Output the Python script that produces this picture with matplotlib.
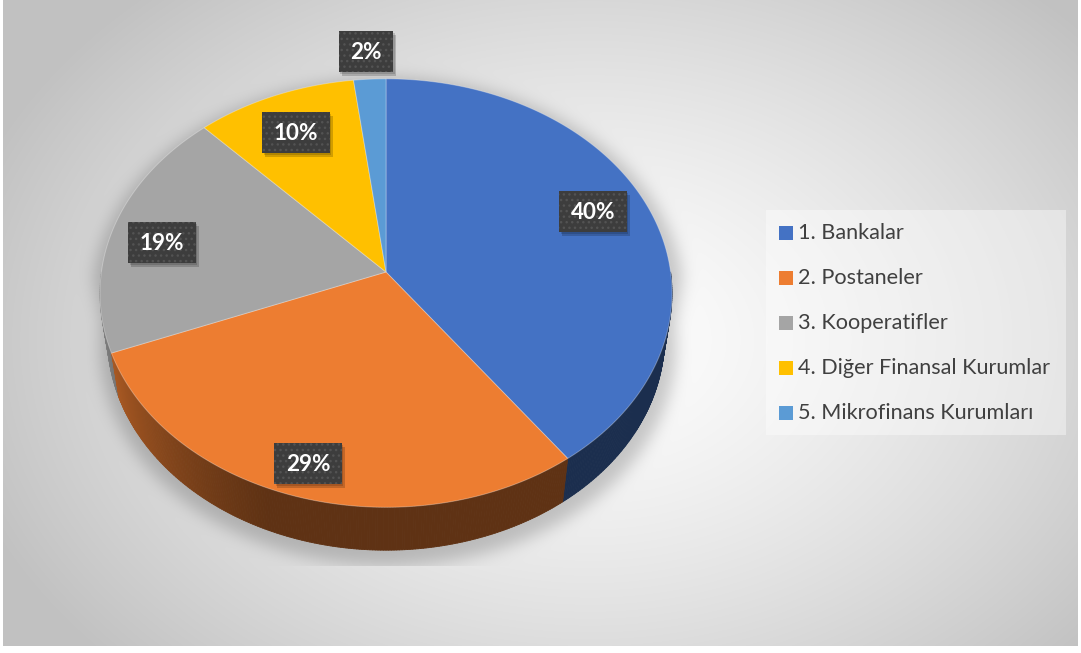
import numpy as np
import matplotlib
matplotlib.use('Agg')
import matplotlib.pyplot as plt
from matplotlib.patches import Polygon, Rectangle
from matplotlib.collections import PolyCollection
from matplotlib.path import Path

# ---------------- data ----------------
categories = ['1. Bankalar', '2. Postaneler', '3. Kooperatifler',
              '4. Diğer Finansal Kurumlar', '5. Mikrofinans Kurumları']
shares = [40, 29, 19, 10, 2]
colors = ['#4472C4', '#ED7D31', '#A5A5A5', '#FFC000', '#5B9BD5']
pct_labels = ['40%', '29%', '19%', '10%', '2%']

# ---------------- layout ----------------
label_xy = [(593, 211), (308, 463), (162, 242), (296, 132), (366, 51)]
W, H = 1081, 653
CX, CY = 386, 272          # projected pie centre (pixels)
SCALE = 284.6              # pixels per unit radius
ELEV = np.radians(48.2)    # viewing elevation
DIST = 6.78                # camera distance (in radii)
THICK = 0.243              # pie thickness (in radii)
LBL_FS = 16.2
LEG_FS = 15.6

plt.rcParams['hatch.color'] = '#535353'
plt.rcParams['hatch.linewidth'] = 1.0

fig = plt.figure(figsize=(W / 100, H / 100), dpi=100)
ax = fig.add_axes([0, 0, 1, 1])
ax.set_xlim(0, W)
ax.set_ylim(H, 0)
ax.axis('off')

se, ce = np.sin(ELEV), np.cos(ELEV)


def proj(phi_deg, z=0.0):
    t = np.radians(phi_deg)
    dotf = np.sin(t) * ce - z * se
    dotu = np.sin(t) * se + z * ce
    dep = DIST + dotf
    sx = np.cos(t) * DIST / dep
    sy = dotu * DIST / dep
    return CX + SCALE * sx, CY - SCALE * sy


def proj_centre(z=0.0):
    dep = DIST - z * se
    return CX, CY - SCALE * (z * ce) * DIST / dep


# ---------------- background with radial gradient + shadow ----------------
yy, xx = np.mgrid[0:H, 0:W] + 0.5
dx = (xx - 590) / 580.0
dy = (yy - 340) / 420.0
r = np.sqrt(dx ** 2 + dy ** 2)
val = np.clip(0.995 - 0.20 * r ** 1.4, 0.76, 1.0)

# silhouette of the pie for its shadow
ang_back = np.linspace(0, 180, 200)
ang_front = np.linspace(-180, 0, 200)
tx, ty = proj(ang_back, 0.0)
bx, by = proj(ang_front, -THICK)
sil = np.column_stack([np.concatenate([tx, bx]), np.concatenate([ty, by])])
mcx, mcy = sil[:, 0].mean(), sil[:, 1].mean()
sil_s = np.column_stack([(sil[:, 0] - mcx) * 1.035 + mcx + 2,
                         (sil[:, 1] - mcy) * 1.035 + mcy + 7])
pts = np.column_stack([xx.ravel(), yy.ravel()])
mask = Path(sil_s).contains_points(pts).reshape(H, W).astype(float)


def blur(a, sigma):
    k = np.arange(-int(3 * sigma), int(3 * sigma) + 1)
    g = np.exp(-k ** 2 / (2 * sigma ** 2))
    g /= g.sum()
    a = np.apply_along_axis(lambda v: np.convolve(v, g, mode='same'), 1, a)
    a = np.apply_along_axis(lambda v: np.convolve(v, g, mode='same'), 0, a)
    return a


sh = blur(mask, 8)
sh[yy > 566] = 0
val = val * (1 - 0.2 * sh)

img = np.ones((H, W, 3))
frame = (xx >= 3) & (xx <= 1078) & (yy <= 646)
for c in range(3):
    img[..., c] = np.where(frame, val, 1.0)
ax.imshow(img, extent=(0, W, H, 0), interpolation='bilinear', zorder=0)


# ---------------- 3D pie ----------------
def shade(hexcol, f):
    c = np.array(matplotlib.colors.to_rgb(hexcol))
    return tuple(np.clip(c * f, 0, 1))


total = float(sum(shares))
bounds = []
cum = 0.0
for v in shares:
    t0 = 90 - 360 * cum / total
    cum += v
    t1 = 90 - 360 * cum / total
    bounds.append((t0, t1))

# outer side wall (front half), painted far-to-near
segs = []
for (t0, t1), col in zip(bounds, colors):
    for base in (0, -360):
        a0, a1 = t0 + base, t1 + base
        lo, hi = max(a1, -180), min(a0, 0)
        if hi <= lo:
            continue
        steps = np.append(np.arange(hi, lo, -0.5), lo)
        for s0, s1 in zip(steps[:-1], steps[1:]):
            xa, ya = proj(s0, 0.0)
            xb, yb = proj(s1, 0.0)
            xc, yc = proj(s1, -THICK)
            xd, yd = proj(s0, -THICK)
            mid = 0.5 * (s0 + s1)
            f = 0.40 + 0.48 * np.clip((-112 - mid) / 68.0, 0, 1) ** 1.1
            segs.append((np.sin(np.radians(mid)),
                         [(xa, ya), (xb, yb), (xc, yc), (xd, yd)],
                         shade(col, f)))
segs.sort(key=lambda s: -s[0])
side_polys = [s[1] for s in segs]
side_cols = [s[2] for s in segs]
pc = PolyCollection(side_polys, facecolors=side_cols, edgecolors=side_cols,
                    linewidths=0.6, zorder=2)
ax.add_collection(pc)

# top faces
for (t0, t1), col in zip(bounds, colors):
    th = np.linspace(t0, t1, 240)
    xs, ys = proj(th, 0.0)
    verts = [proj_centre(0.0)] + list(zip(xs, ys))
    ax.add_patch(Polygon(verts, closed=True, fc=col, ec=(1, 1, 1, 0.3),
                         lw=0.7, zorder=3))

# ---------------- data labels ----------------
renderer = fig.canvas.get_renderer()
cap = 0.72 * LBL_FS * 100 / 72.0
for (x, y), s in zip(label_xy, pct_labels):
    t = ax.text(x, y + cap / 2, s, ha='center', va='baseline', color='white',
                fontsize=LBL_FS, fontweight='bold', family='Lato', zorder=6)
    tw = t.get_window_extent(renderer).width
    bw, bh = tw + 23, 41
    ax.add_patch(Rectangle((x - bw / 2 + 3, y - bh / 2 + 4), bw, bh,
                           fc=(0, 0, 0, 0.18), lw=0, zorder=4))
    ax.add_patch(Rectangle((x - bw / 2 + 1.5, y - bh / 2 + 2), bw, bh,
                           fc=(0, 0, 0, 0.15), lw=0, zorder=4))
    ax.add_patch(Rectangle((x - bw / 2, y - bh / 2), bw, bh,
                           fc='#3d3d3d', ec='#535353', lw=0, hatch='...',
                           zorder=5))

# ---------------- legend ----------------
ax.add_patch(Rectangle((766, 210), 300, 225, fc=(1, 1, 1, 0.4), lw=0, zorder=1))
for i, (name, col) in enumerate(zip(categories, colors)):
    yc = 233 + 45 * i
    ax.add_patch(Rectangle((779, yc - 7), 14, 14, fc=col, lw=0, zorder=2))
    ax.text(798, yc, name, ha='left', va='center', color='#404040',
            fontsize=LEG_FS, family='Lato', zorder=2)

fig.savefig('out.png', dpi=100)
